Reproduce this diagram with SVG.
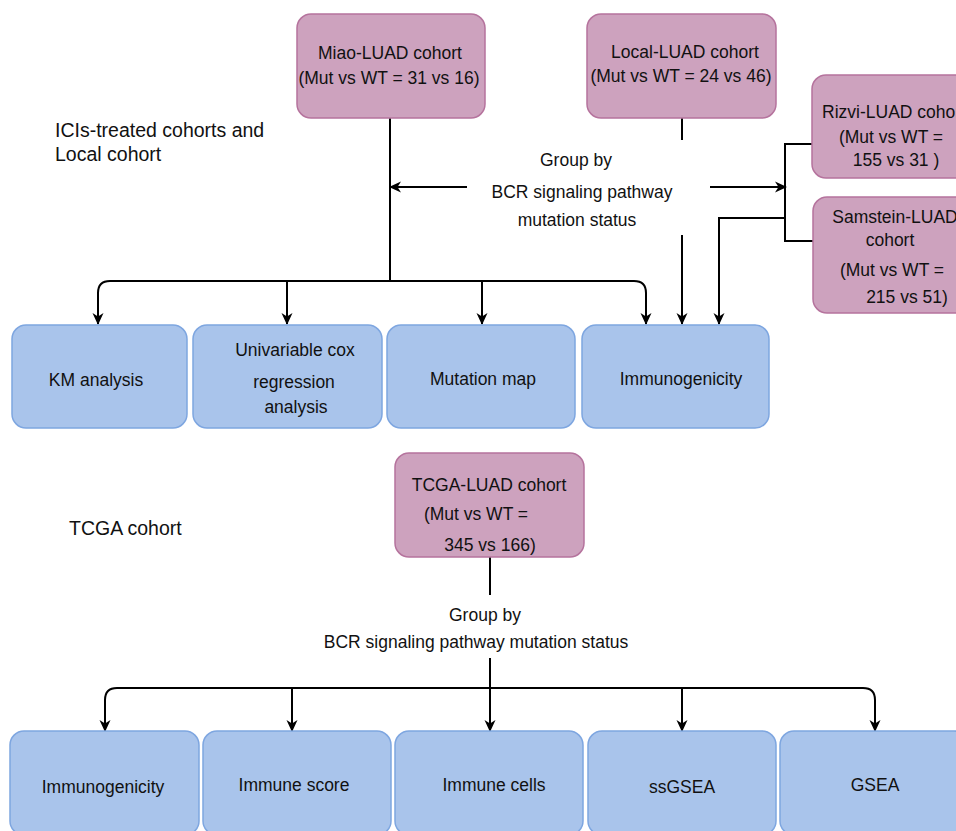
<svg xmlns="http://www.w3.org/2000/svg" width="956" height="831" viewBox="0 0 956 831">
<style>
text{font-family:"Liberation Sans",Arial,Helvetica,sans-serif;font-size:17.5px;fill:#111;}
.c{text-anchor:middle;}
.side{font-size:19.5px;}
.pink{fill:#CDA2BE;stroke:#B5739D;stroke-width:1.5;}
.blue{fill:#A9C4EB;stroke:#7EA6E0;stroke-width:1.5;}
.ln{fill:none;stroke:#000;stroke-width:2;}
.ar{marker-end:url(#arr);}
</style>
<defs>
<marker id="arr" markerUnits="userSpaceOnUse" markerWidth="14" markerHeight="14" refX="12" refY="7" orient="auto">
<path d="M1,1.5 L13,7 L1,12.5 L4.5,7 Z" fill="#000"/>
</marker>
</defs>
<rect width="956" height="831" fill="#fff"/>

<g id="labels">
<text class="side" x="55" y="137">ICIs-treated cohorts and</text>
<text class="side" x="55" y="161">Local cohort</text>
<text class="side" x="69" y="535">TCGA cohort</text>
</g>

<g id="connectors">
<path class="ln" d="M390,118 V282"/>
<path class="ln ar" d="M390,281 H110 Q98,281 98,293 V324"/>
<path class="ln ar" d="M390,281 H634 Q646,281 646,293 V324"/>
<path class="ln ar" d="M287,281 V324"/>
<path class="ln ar" d="M482,281 V324"/>
<path class="ln ar" d="M467,187 H390"/>
<path class="ln ar" d="M710,187 H786"/>
<path class="ln" d="M812,144 H785 V241 H814"/>
<path class="ln" d="M682,118 V140"/>
<path class="ln ar" d="M682,235 V324"/>
<path class="ln ar" d="M785,218 H719 V324"/>
<path class="ln" d="M490,557 V595"/>
<path class="ln" d="M490,658 V688"/>
<path class="ln ar" d="M490,688 H117 Q105,688 105,700 V731"/>
<path class="ln ar" d="M490,688 H863 Q875,688 875,700 V731"/>
<path class="ln ar" d="M292,688 V731"/>
<path class="ln ar" d="M490,688 V731"/>
<path class="ln ar" d="M682,688 V731"/>
</g>

<g id="group-label-top">
<text class="c" x="576" y="166">Group by</text>
<text class="c" x="582" y="198">BCR signaling pathway</text>
<text class="c" x="577" y="226">mutation status</text>
</g>
<g id="group-label-bottom">
<text class="c" x="485" y="621">Group by</text>
<text class="c" x="476" y="648">BCR signaling pathway mutation status</text>
</g>

<g id="miao">
<rect class="pink" x="297" y="14" width="188" height="104" rx="14"/>
<text class="c" x="390" y="59">Miao-LUAD cohort</text>
<text class="c" x="389" y="84">(Mut vs WT = 31 vs 16)</text>
</g>
<g id="local">
<rect class="pink" x="587" y="14" width="189" height="104" rx="14"/>
<text class="c" x="685" y="58">Local-LUAD cohort</text>
<text class="c" x="681" y="82">(Mut vs WT = 24 vs 46)</text>
</g>
<g id="rizvi">
<rect class="pink" x="812" y="75" width="170" height="103" rx="14"/>
<text class="c" x="894" y="118">Rizvi-LUAD cohort</text>
<text class="c" x="891" y="143">(Mut vs WT =</text>
<text class="c" x="896" y="166">155 vs 31 )</text>
</g>
<g id="samstein">
<rect class="pink" x="813" y="197" width="170" height="116" rx="14"/>
<text class="c" x="895" y="223">Samstein-LUAD</text>
<text class="c" x="890" y="246">cohort</text>
<text class="c" x="892" y="276">(Mut vs WT =</text>
<text class="c" x="907" y="303">215 vs 51)</text>
</g>

<g id="km">
<rect class="blue" x="12" y="325" width="175" height="103" rx="14"/>
<text class="c" x="96" y="386">KM analysis</text>
</g>
<g id="univariable">
<rect class="blue" x="193" y="325" width="189" height="103" rx="14"/>
<text class="c" x="295" y="356">Univariable cox</text>
<text class="c" x="294" y="388">regression</text>
<text class="c" x="296" y="413">analysis</text>
</g>
<g id="mutation-map">
<rect class="blue" x="387" y="325" width="188" height="103" rx="14"/>
<text class="c" x="483" y="385">Mutation map</text>
</g>
<g id="immunogenicity-top">
<rect class="blue" x="582" y="325" width="187" height="103" rx="14"/>
<text class="c" x="681" y="385">Immunogenicity</text>
</g>

<g id="tcga">
<rect class="pink" x="395" y="453" width="189" height="104" rx="14"/>
<text class="c" x="489" y="491">TCGA-LUAD cohort</text>
<text class="c" x="476" y="520">(Mut vs WT =</text>
<text class="c" x="490" y="551">345 vs 166)</text>
</g>

<g id="immunogenicity-bottom">
<rect class="blue" x="10" y="731" width="189" height="104" rx="14"/>
<text class="c" x="103" y="793">Immunogenicity</text>
</g>
<g id="immune-score">
<rect class="blue" x="203" y="731" width="188" height="104" rx="14"/>
<text class="c" x="294" y="791">Immune score</text>
</g>
<g id="immune-cells">
<rect class="blue" x="395" y="731" width="188" height="104" rx="14"/>
<text class="c" x="494" y="791">Immune cells</text>
</g>
<g id="ssgsea">
<rect class="blue" x="588" y="731" width="188" height="104" rx="14"/>
<text class="c" x="682" y="793">ssGSEA</text>
</g>
<g id="gsea">
<rect class="blue" x="780" y="731" width="188" height="104" rx="14"/>
<text class="c" x="875" y="791">GSEA</text>
</g>
</svg>
